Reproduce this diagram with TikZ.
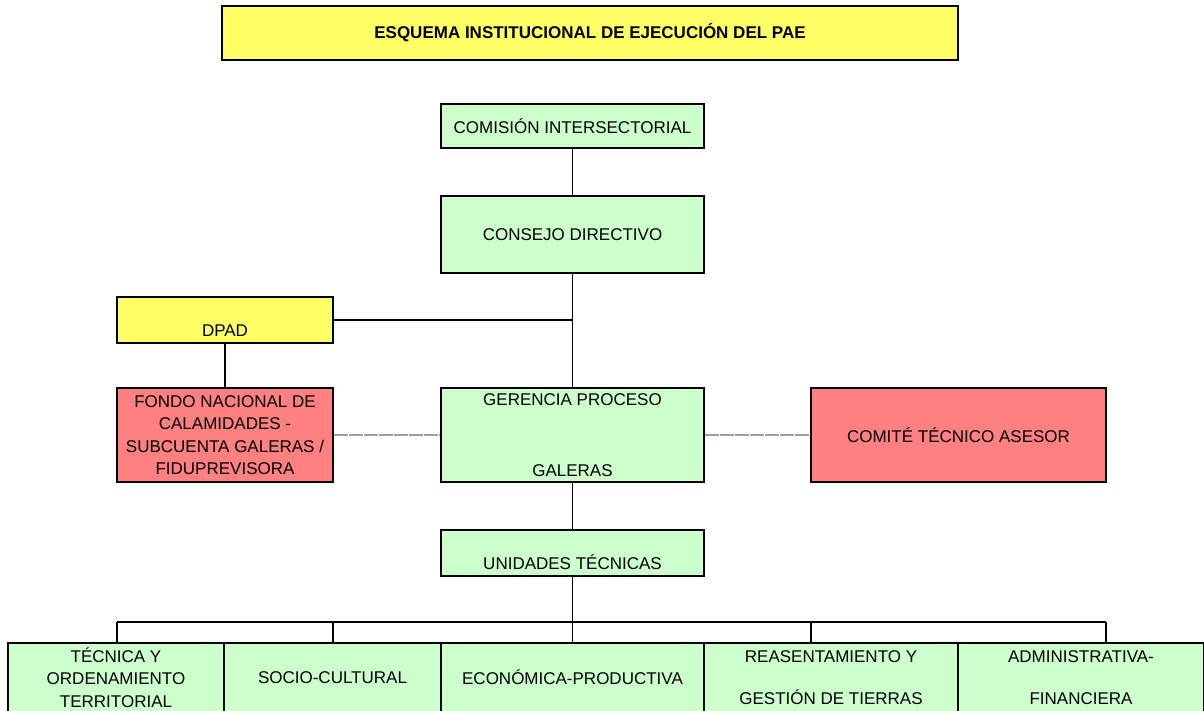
\documentclass[tikz,border=0pt]{standalone}
\usepackage{fontspec}
\setmainfont{Liberation Sans}
\usetikzlibrary{positioning}
\definecolor{unitgreen}{HTML}{CCFFCC}
\definecolor{unityellow}{HTML}{FFFF66}
\definecolor{unitred}{HTML}{FF8080}
\tikzset{
  unit/.style={draw, line width=2pt, inner sep=0pt, align=center, fill=unitgreen},
  planunit/.style={unit, fill=unityellow},
  fundunit/.style={unit, fill=unitred},
  lowtext/.style={text height=32pt, text depth=0pt},
  link/.style={line width=1.8pt},
  advice/.style={line width=1.8pt, gray!75, dash pattern=on 14pt off 1pt}
}
\begin{document}
\begin{tikzpicture}[x=1pt, y=-1pt, font=\fontsize{17}{22.5}\selectfont]
  \useasboundingbox (0,0) rectangle (1204,710);
  % title bar
  \node[planunit, line width=2.6pt, minimum width=736, minimum height=54,
        font=\fontsize{17}{22.5}\selectfont\bfseries] (title) at (590,33)
        {ESQUEMA INSTITUCIONAL DE EJECUCIÓN DEL PAE};
  % main column, x = 572.5
  \node[unit, minimum width=263, minimum height=44] (com) at (572.5,126) {COMISIÓN INTERSECTORIAL};
  \node[unit, minimum width=263, minimum height=77] (con) at (572.5,234.5) {CONSEJO DIRECTIVO};
  \node[unit, minimum width=263, minimum height=94] (ger) at (572.5,435) {GERENCIA PROCESO\\[49pt]GALERAS};
  \node[unit, lowtext, minimum width=263, minimum height=46] (uni) at (572.5,553) {UNIDADES TÉCNICAS};
  % side units
  \node[planunit, lowtext, minimum width=216, minimum height=46] (dpad) at (225,320) {DPAD};
  \node[fundunit, minimum width=216, minimum height=94] (fon) at (225,435)
        {FONDO NACIONAL DE\\CALAMIDADES -\\SUBCUENTA GALERAS /\\FIDUPREVISORA};
  \node[fundunit, minimum width=295, minimum height=94] (cta) at (958.5,435) {COMITÉ TÉCNICO ASESOR};
  % technical units, bottom row
  \node[unit, minimum width=216, minimum height=69] (tec) at (116,677.5) {TÉCNICA Y\\ORDENAMIENTO\\TERRITORIAL};
  \node[unit, minimum width=217, minimum height=69] (soc) at (332.5,677.5) {SOCIO-CULTURAL};
  \node[unit, minimum width=263, minimum height=69] (eco) at (572.5,677.5) {ECONÓMICA-PRODUCTIVA};
  \node[unit, minimum width=254, minimum height=69] (rea) at (831,677.5) {REASENTAMIENTO Y\\[19pt]GESTIÓN DE TIERRAS};
  \node[unit, minimum width=246, minimum height=69] (adm) at (1081,677.5) {ADMINISTRATIVA-\\[19pt]FINANCIERA};
  % connectors
  \draw[link] (com) -- (con);
  \draw[link] (con) -- (ger);
  \draw[link] (ger) -- (uni);
  \draw[link] (dpad.east) -- (dpad.east -| con.south);
  \draw[link] (dpad) -- (fon);
  \draw[advice] (fon.east) -- (ger.west);
  \draw[advice] (ger.east) -- (cta.west);
  % bus over the bottom row
  \path (uni.south) ++(0,45) coordinate (bus);
  \path ([xshift=1]tec.north) coordinate (tecdrop);
  \path ([xshift=0.5]soc.north) coordinate (socdrop);
  \path (eco.north) coordinate (ecodrop);
  \path ([xshift=-20]rea.north) coordinate (readrop);
  \path ([xshift=25]adm.north) coordinate (admdrop);
  \draw[link] (uni) -- (ecodrop);
  \draw[link] (bus -| tecdrop) -- (bus -| admdrop);
  \foreach \d in {tecdrop, socdrop, readrop, admdrop}
    \draw[link] (\d) -- (bus -| \d);
\end{tikzpicture}
\end{document}
